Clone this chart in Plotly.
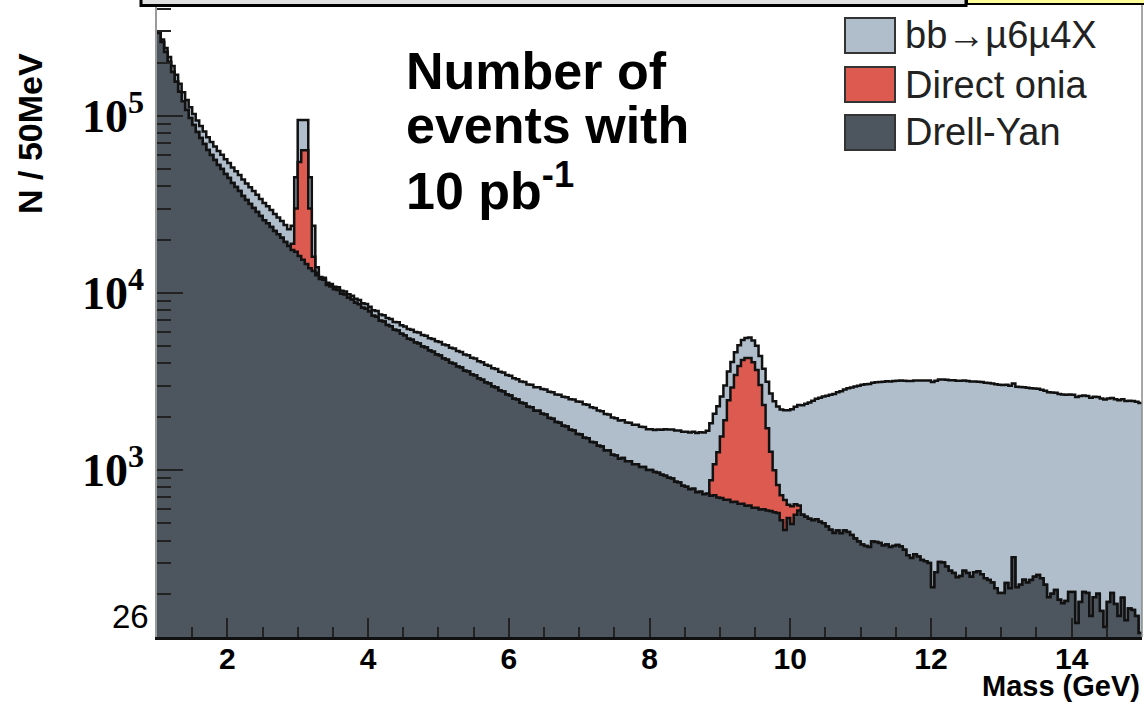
import plotly.graph_objects as go

# ---------------- data (50 MeV bins from 1.0 to 15.0 GeV) ----------------
mass_min = 1.0
bin_width = 0.05

drell_yan = [
    294000, 262000, 230000, 202000, 177000, 156000, 137000, 121000, 108000, 97500, 88900, 81300, 75100, 69500, 64300, 60200, 56400, 52800, 50200, 47000,
    44600, 41800, 39700, 37700, 35300, 33500, 31800, 30200, 28700, 27200, 25800, 24800, 23600, 22400, 21500, 20500, 19400, 18400, 17500, 17100,
    16200, 15400, 14600, 13800, 13300, 12600, 12000, 11900, 11100, 10900, 10500, 10400, 9900, 9800, 9400, 9200, 8800, 8650, 8250, 8150,
    7850, 7450, 7350, 6980, 6900, 6600, 6480, 6200, 6150, 5880, 5750, 5520, 5450, 5250, 5180, 4980, 4920, 4730, 4660, 4490,
    4430, 4260, 4200, 4040, 3990, 3840, 3790, 3640, 3600, 3460, 3420, 3290, 3240, 3120, 3080, 2960, 2930, 2810, 2780, 2670,
    2640, 2530, 2500, 2400, 2380, 2280, 2260, 2160, 2160, 2080, 2060, 1970, 1950, 1870, 1850, 1780, 1760, 1690, 1670, 1600,
    1590, 1520, 1510, 1440, 1430, 1370, 1360, 1290, 1290, 1220, 1210, 1160, 1170, 1120, 1120, 1080, 1080, 1040, 1040, 1000,
    1000, 975, 965, 940, 930, 905, 895, 860, 850, 815, 805, 780, 785, 750, 755, 730, 735, 715, 720, 700,
    695, 680, 680, 660, 662, 645, 645, 628, 630, 612, 612, 598, 600, 590, 588, 578, 572, 520, 458, 536,
    495, 560, 590, 560, 545, 530, 520, 528, 510, 500, 480, 460, 441, 455, 440, 455, 447, 430, 410, 395,
    380, 372, 367, 395, 392, 387, 375, 380, 368, 372, 377, 370, 355, 330, 319, 335, 325, 310, 305, 299,
    218, 265, 302, 300, 285, 270, 262, 248, 252, 270, 262, 250, 265, 268, 258, 245, 239, 232, 215, 202,
    202, 230, 215, 322, 218, 225, 240, 232, 239, 250, 255, 245, 225, 191, 200, 210, 185, 177, 182, 205,
    205, 137, 180, 205, 202, 150, 191, 200, 160, 130, 180, 202, 175, 150, 190, 142, 165, 162, 150, 120,
]

direct_onia = [
    0, 0, 0, 0, 0, 0, 0, 0, 0, 0, 0, 0, 0, 0, 0, 0, 0, 0, 0, 0,
    0, 0, 0, 0, 0, 0, 0, 0, 0, 0, 0, 0, 0, 0, 0, 0, 0, 0, 1500, 12900,
    38800, 48600, 49400, 16200, 2700, 400, 0, 0, 0, 0, 0, 0, 0, 0, 0, 0, 0, 0, 0, 0,
    0, 0, 0, 0, 0, 0, 0, 0, 0, 0, 0, 0, 0, 0, 0, 0, 0, 0, 0, 0,
    0, 0, 0, 0, 0, 0, 0, 0, 0, 0, 0, 0, 0, 0, 0, 0, 0, 0, 0, 0,
    0, 0, 0, 0, 0, 0, 0, 0, 0, 0, 0, 0, 0, 0, 0, 0, 0, 0, 0, 0,
    0, 0, 0, 0, 0, 0, 0, 0, 0, 0, 0, 0, 0, 0, 0, 0, 0, 0, 0, 0,
    0, 0, 0, 0, 0, 0, 0, 0, 0, 0, 0, 0, 0, 0, 0, 0, 0, 160, 360, 560,
    850, 1230, 1800, 2270, 2780, 3220, 3540, 3670, 3670, 3450, 3060, 2420, 1730, 1130, 680, 420, 250, 200, 220, 100,
    130, 80, 40, 0, 0, 0, 0, 0, 0, 0, 0, 0, 0, 0, 0, 0, 0, 0, 0, 0,
    0, 0, 0, 0, 0, 0, 0, 0, 0, 0, 0, 0, 0, 0, 0, 0, 0, 0, 0, 0,
    0, 0, 0, 0, 0, 0, 0, 0, 0, 0, 0, 0, 0, 0, 0, 0, 0, 0, 0, 0,
    0, 0, 0, 0, 0, 0, 0, 0, 0, 0, 0, 0, 0, 0, 0, 0, 0, 0, 0, 0,
    0, 0, 0, 0, 0, 0, 0, 0, 0, 0, 0, 0, 0, 0, 0, 0, 0, 0, 0, 0,
]

bb_mu6mu4x = [
    3800, 8000, 12000, 13500, 14300, 14800, 15100, 15200, 15000, 14400, 13700, 13100, 12600, 12100, 11600, 11100, 10800, 10500, 10200, 9900,
    9600, 9300, 9000, 8700, 8400, 8100, 7800, 7500, 7200, 6800, 6400, 6100, 5800, 5500, 5200, 5000, 4800, 4550, 5000, 15000,
    40000, 31000, 31000, 15000, 8000, 1000, 300, 310, 320, 330, 350, 370, 390, 410, 430, 450, 470, 490, 500, 510,
    520, 540, 560, 580, 600, 620, 640, 660, 680, 700, 720, 740, 760, 780, 800, 810, 820, 830, 840, 850,
    860, 865, 870, 870, 870, 865, 860, 855, 850, 845, 840, 830, 820, 810, 800, 795, 790, 785, 780, 775,
    770, 765, 760, 760, 760, 765, 770, 775, 780, 785, 790, 795, 800, 805, 810, 815, 820, 825, 830, 835,
    840, 835, 830, 820, 810, 800, 790, 780, 770, 760, 750, 745, 740, 735, 730, 725, 720, 715, 710, 700,
    700, 710, 730, 750, 770, 790, 800, 810, 820, 830, 840, 850, 860, 870, 880, 900, 930, 960, 1000, 1030,
    1060, 1090, 1120, 1150, 1180, 1210, 1240, 1270, 1300, 1330, 1360, 1390, 1410, 1430, 1440, 1450, 1460, 1480, 1500, 1540,
    1580, 1640, 1700, 1760, 1820, 1880, 1940, 2000, 2050, 2100, 2150, 2200, 2250, 2300, 2350, 2400, 2450, 2500, 2550, 2600,
    2650, 2680, 2700, 2720, 2740, 2760, 2780, 2790, 2800, 2810, 2820, 2830, 2840, 2850, 2860, 2870, 2880, 2890, 2900, 2910,
    2920, 2930, 2940, 2950, 2950, 2950, 2950, 2950, 2940, 2930, 2920, 2910, 2900, 2890, 2880, 2870, 2860, 2850, 2840, 2830,
    2820, 2800, 2780, 2760, 2740, 2720, 2700, 2680, 2660, 2640, 2620, 2600, 2580, 2560, 2540, 2520, 2500, 2490, 2480, 2470,
    2460, 2450, 2440, 2430, 2420, 2410, 2400, 2390, 2380, 2370, 2360, 2350, 2340, 2330, 2320, 2310, 2300, 2290, 2280, 2270,
]

series_names = ["bb\u2192\u00b56\u00b54X", "Direct onia", "Drell-Yan"]
x_tick_values = [2, 4, 6, 8, 10, 12, 14]
y_tick_values = [1e3, 1e4, 1e5]
y_tick_labels = ["10<sup>3</sup>", "10<sup>4</sup>", "10<sup>5</sup>"]

# ---------------- build stacked step histograms ----------------
n_bins = len(drell_yan)
assert len(direct_onia) == n_bins and len(bb_mu6mu4x) == n_bins
edges = [mass_min + bin_width * i for i in range(n_bins + 1)]

stack_dy = list(drell_yan)
stack_onia = [d + o for d, o in zip(drell_yan, direct_onia)]
stack_total = [s + b for s, b in zip(stack_onia, bb_mu6mu4x)]

def closed(vals):
    return vals + [vals[-1]]

C_BB = "#b0becb"
C_ONIA = "#dc5a50"
C_DY = "#4d555e"
C_LINE = "#111111"

fig = go.Figure()
for name, vals, col in [
    (series_names[0], stack_total, C_BB),
    (series_names[1], stack_onia, C_ONIA),
    (series_names[2], stack_dy, C_DY),
]:
    fig.add_trace(go.Scatter(
        x=edges, y=closed(vals), mode="lines", name=name,
        line=dict(shape="hv", color=C_LINE, width=2.5),
        fill="tozeroy", fillcolor=col, showlegend=False,
    ))

# ---------------- layout ----------------
W, H = 1144, 704
L, R, T, B = 157, 2, 0, 67
PW, PH = W - L - R, H - T - B

def px(xp):
    return (xp - L) / PW

def py(yp):
    return (H - B - yp) / PH

minor_y = [m * 10 ** e for e in (2, 3, 4) for m in range(2, 10)] + [2e5, 3e5, 4e5]

fig.update_layout(
    width=W, height=H,
    margin=dict(l=L, r=R, t=T, b=B),
    paper_bgcolor="white", plot_bgcolor="white",
    showlegend=False,
    xaxis=dict(
        range=[1, 15], showgrid=False, zeroline=False,
        tickmode="array", tickvals=x_tick_values,
        ticks="inside", ticklen=19, tickwidth=2, tickcolor="#222",
        minor=dict(dtick=0.5, ticks="inside", ticklen=10, tickwidth=2, tickcolor="#222", showgrid=False),
        showline=True, linecolor="#111", linewidth=2.5,
        ticklabelstandoff=-7,
        tickfont=dict(family="Liberation Sans", size=30, color="black", weight="bold"),
    ),
    yaxis=dict(
        type="log", range=[2.057, 5.655], showgrid=False, zeroline=False,
        tickmode="array", tickvals=y_tick_values, ticktext=y_tick_labels,
        ticks="inside", ticklen=26, tickwidth=2, tickcolor="#222",
        minor=dict(tickvals=minor_y, ticks="inside", ticklen=14, tickwidth=2, tickcolor="#222", showgrid=False),
        showline=True, linecolor="#9a9a9a", linewidth=1.5,
        ticklabelstandoff=2,
        tickfont=dict(family="Liberation Serif", size=46, color="black", weight="bold"),
    ),
)

shapes = []
# slide frame remnants at the top
shapes.append(dict(type="rect", xref="paper", yref="paper",
                   x0=px(141), x1=px(966), y0=py(5.5), y1=py(-10),
                   fillcolor="#e0e0e0", line=dict(color="black", width=3)))
shapes.append(dict(type="rect", xref="paper", yref="paper",
                   x0=px(967), x1=px(1150), y0=py(4), y1=py(-10),
                   fillcolor="#ffff9a", line=dict(color="black", width=2)))
# right frame line
shapes.append(dict(type="line", xref="paper", yref="paper",
                   x0=px(1142), x1=px(1142), y0=py(637), y1=py(5),
                   line=dict(color="#8a8a8a", width=1.5)))
# legend swatches
legend_rows = [(18, 53, C_BB), (67, 102, C_ONIA), (115, 150, C_DY)]
for (y0, y1, col) in legend_rows:
    shapes.append(dict(type="rect", xref="paper", yref="paper",
                       x0=px(845), x1=px(895), y0=py(y1), y1=py(y0),
                       fillcolor=col, line=dict(color="#333", width=2)))
fig.update_layout(shapes=shapes)

annotations = []
for (y0, y1, col), name in zip(legend_rows, series_names):
    annotations.append(dict(xref="paper", yref="paper", x=px(903), y=py((y0 + y1) / 2),
                            xanchor="left", yanchor="middle", showarrow=False,
                            text=name, font=dict(family="Liberation Sans", size=38, color="#222")))

annotations.append(dict(xref="paper", yref="paper", x=px(30), y=py(134),
                        xanchor="center", yanchor="middle", showarrow=False, textangle=-90,
                        text="<b>N / 50MeV</b>", font=dict(family="Liberation Sans", size=34, color="black")))
annotations.append(dict(xref="paper", yref="paper", x=px(151), y=py(616),
                        xanchor="right", yanchor="middle", showarrow=False,
                        text="26", font=dict(family="Liberation Sans", size=33, color="black")))
annotations.append(dict(xref="paper", yref="paper", x=px(1142), y=py(686),
                        xanchor="right", yanchor="middle", showarrow=False,
                        text="<b>Mass (GeV)</b>", font=dict(family="Liberation Sans", size=29, color="black")))
for txt, ybase in [("Number of", 89), ("events with", 143), ("10 pb<sup>-1</sup>", 205)]:
    annotations.append(dict(xref="paper", yref="paper", x=px(404), y=py(ybase - 18),
                            xanchor="left", yanchor="middle", showarrow=False,
                            text="<b>" + txt + "</b>", font=dict(family="Liberation Sans", size=52, color="black")))
fig.update_layout(annotations=annotations)

fig.write_html("out.html")
